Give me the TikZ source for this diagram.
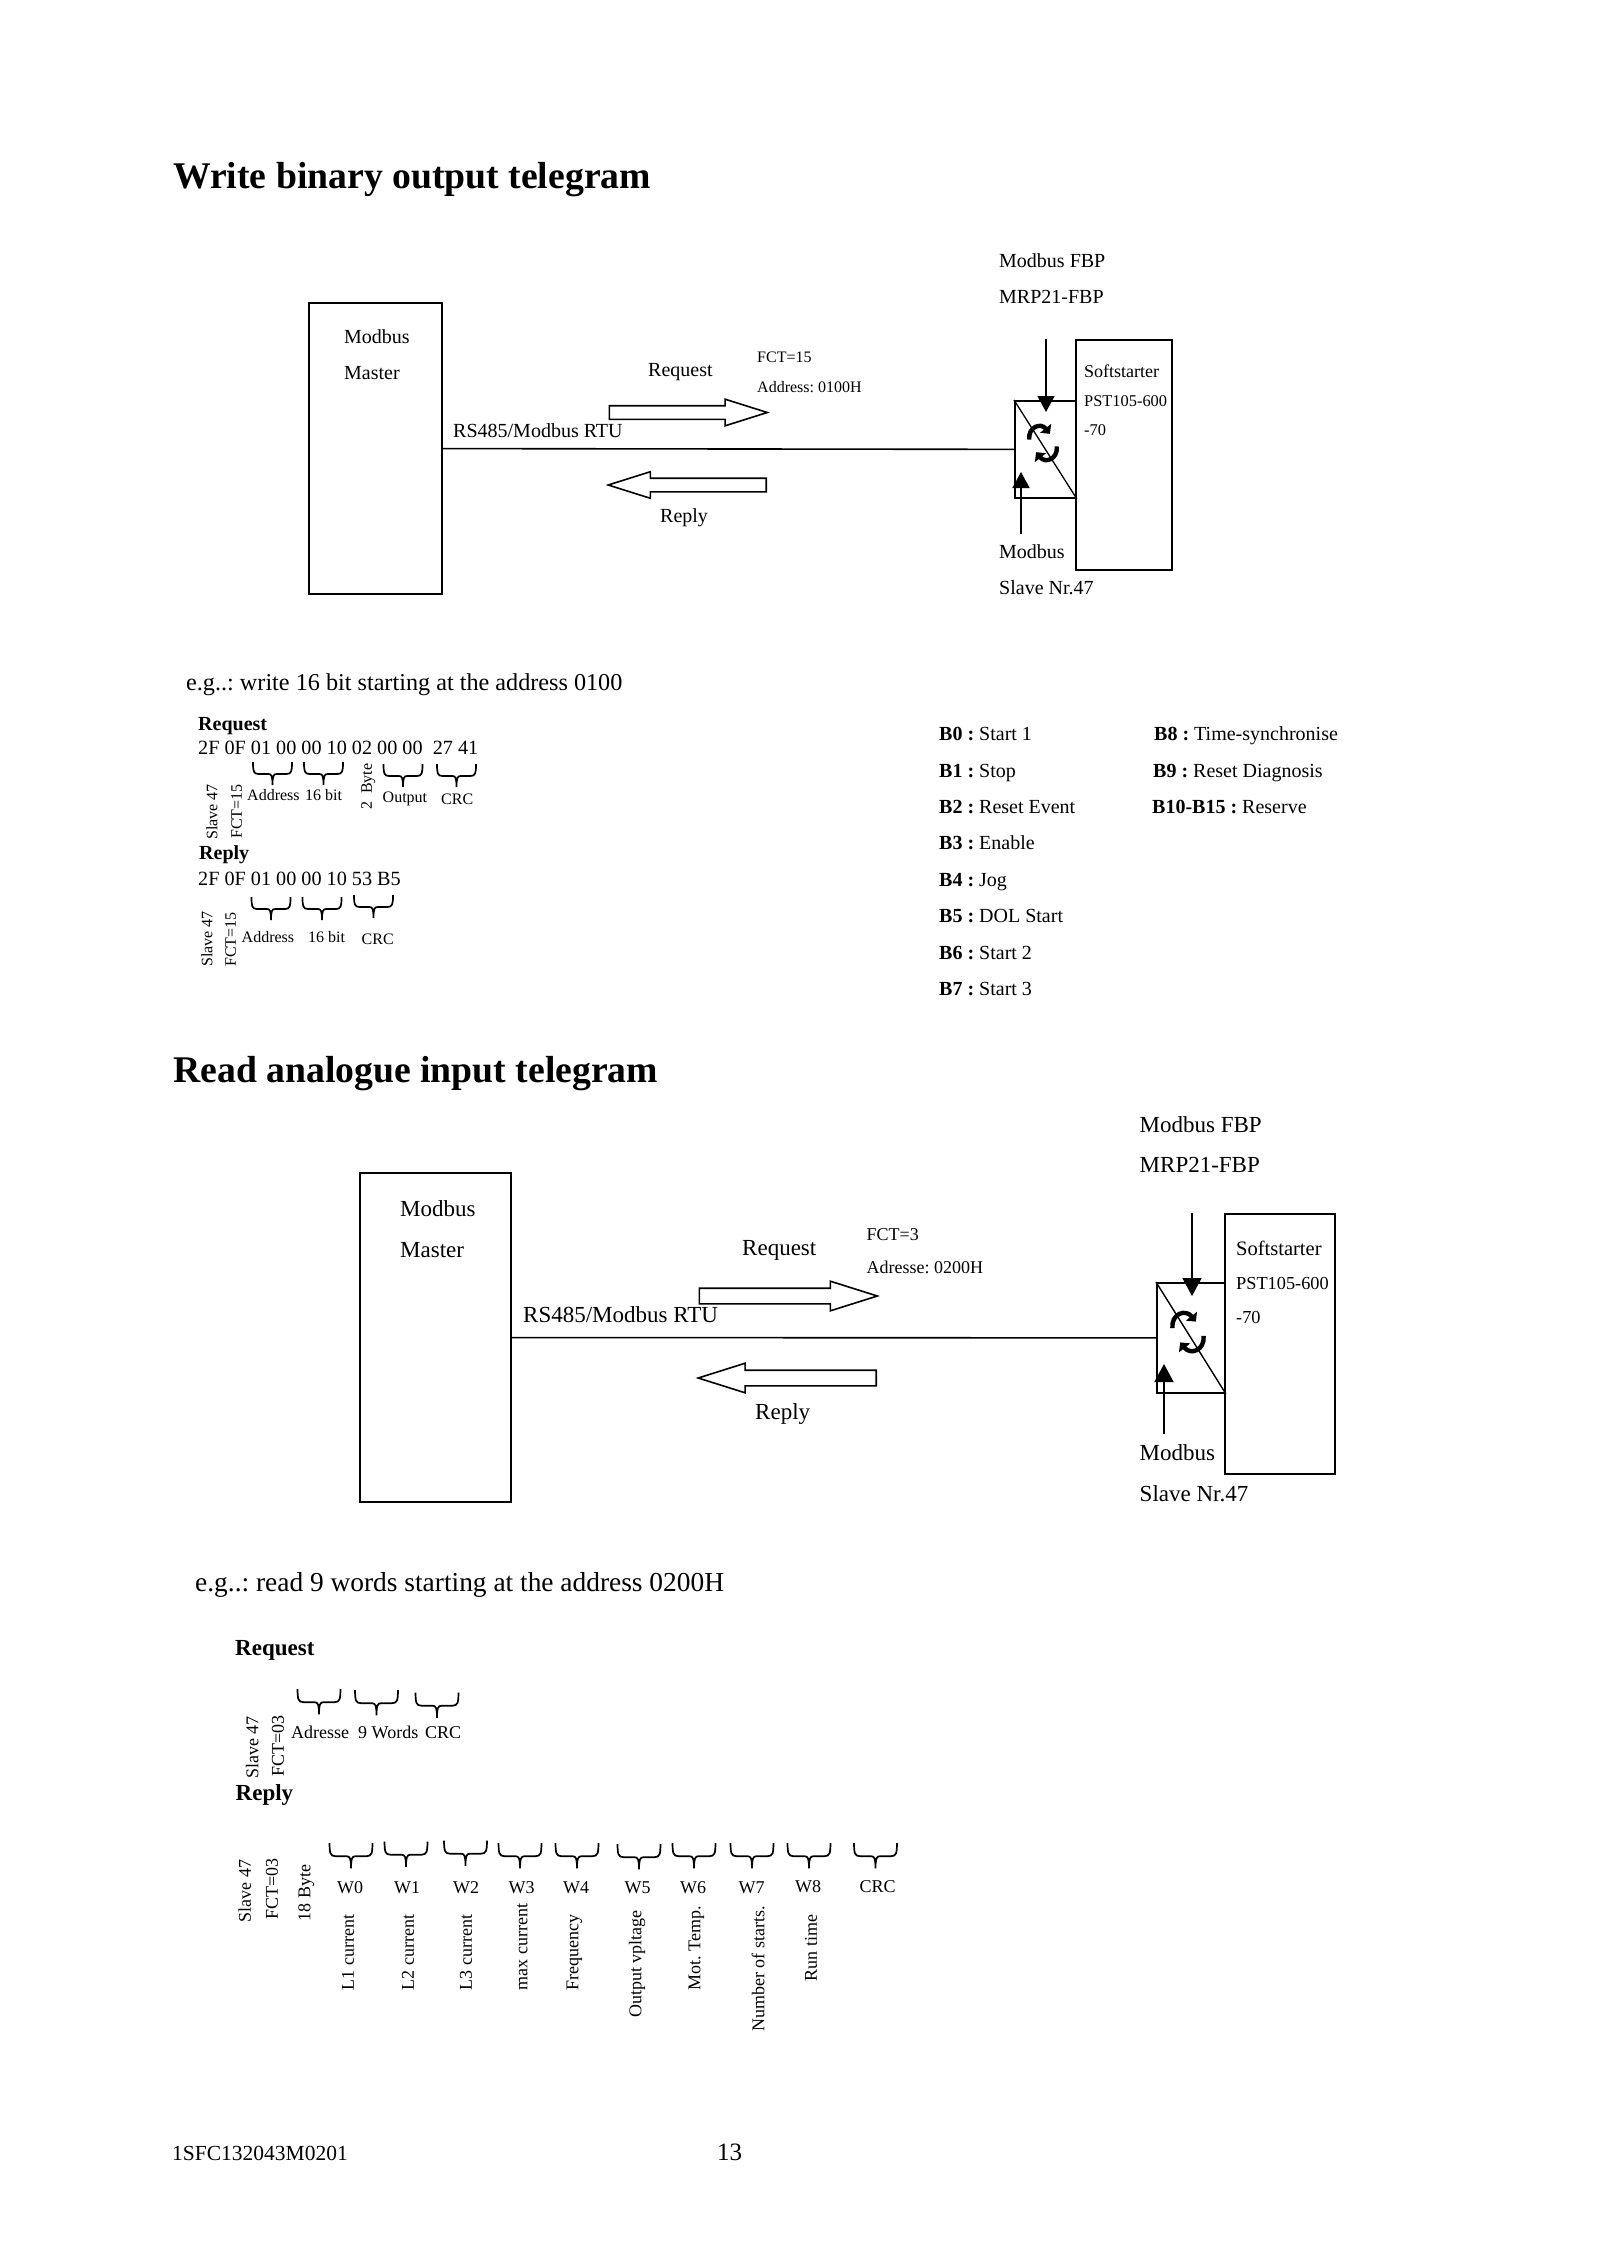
\documentclass[tikz,border=0pt]{standalone}
\usepackage{fontspec}
\setmainfont{Liberation Serif}
\usetikzlibrary{arrows.meta,shapes.arrows}
\tikzset{
  sz/.style={font=\fontsize{#1}{#1}\selectfont\frenchspacing},
  lbl/.style={anchor=west,inner sep=0pt,text height=.66*#1,text depth=0pt,sz=#1},
  mid/.style={lbl=#1,anchor=center},
  up/.style={lbl=#1,rotate=90},
  bold/.style={lbl=#1,font=\fontsize{#1}{#1}\selectfont\bfseries},
  unit/.style={draw,line width=1.8pt,inner sep=0pt},
  wire/.style={line width=1.6pt},
  feed/.style={line width=1.6pt,-{Triangle[length=#1,width=#1+1]}},
  blockr/.style={single arrow,draw,line width=1.6pt,inner sep=6pt,minimum height=#1,
    minimum width=25,single arrow head extend=6.5,single arrow tip angle=35,anchor=tail},
  blockl/.style={blockr=#1,shape border rotate=180},
  bigblock/.style={inner sep=7pt,minimum width=28,single arrow head extend=7},
  wordbrace/.pic={
    \draw[line width=1.7pt] (-19.5,0) .. controls (-19.5,9) and (-19,12) .. (-14,12)
      -- (-4,12) .. controls (-1,12) and (0,14) .. (0,23)
      .. controls (0,14) and (1,12) .. (4,12) -- (14,12)
      .. controls (19,12) and (19.5,9) .. (19.5,0);
  },
  syncicon/.pic={
    \draw[line width=4.4pt,-{Triangle[length=7pt,width=14pt]}] (-12,-3) .. controls (-13,-14) and (-2,-18) .. (6,-8);
    \draw[line width=4.4pt,-{Triangle[length=7pt,width=14pt]}] (12,3) .. controls (13,14) and (2,18) .. (-6,8);
  }
}
\begin{document}
\begin{tikzpicture}[x=1pt,y=-1pt,line cap=butt,line join=miter]
  \useasboundingbox (0,0) rectangle (1600,2264);
  % write binary output
  \node[bold=37.7] (titlew) at (173,176) {Write binary output telegram};
  \node[unit,minimum width=133,minimum height=291] (mastera) at (375.5,448.5) {};
  \node[unit,minimum width=96,minimum height=230,anchor=north west] (softa) at (1075,339) {};
  \node[unit,minimum width=61,minimum height=97,anchor=north west] (conva) at (1014,400) {};
  \draw[line width=1.3pt] (conva.north west) -- (conva.south east);
  \draw[wire] (mastera) -- (conva);
  \pic[scale=1.15] at (1043,443) {syncicon};
  \coordinate (fbpa) at (1046,339);
  \coordinate (fbptipa) at (1046,412);
  \coordinate (slva) at (1021,534);
  \coordinate (slvtipa) at (1021,472);
  \draw[feed=16pt] (fbpa) -- (fbptipa);
  \draw[feed=16pt] (slva) -- (slvtipa);
  \node[blockr=158] (reqa) at (608.5,412.5) {};
  \node[blockl=158] (repa) at (767,485) {};
  \node[lbl=20] (fbpna) at (999,260.5) {Modbus FBP};
  \node[lbl=20] (fbpma) at (999,297) {MRP21-FBP};
  \node[lbl=20] (mna) at (344,336.5) {Modbus};
  \node[lbl=20] (mma) at (344,372.5) {Master};
  \node[lbl=20] (reqta) at (648,370) {Request};
  \node[lbl=16] (fcta) at (757,357) {FCT=15};
  \node[lbl=16] (adra) at (757,387) {Address: 0100H};
  \node[lbl=20] (rtua) at (453,430.5) {RS485/Modbus RTU};
  \node[lbl=20] (repta) at (660,516) {Reply};
  \node[lbl=20] (slna) at (999,551.5) {Modbus};
  \node[lbl=20] (slma) at (999,587.5) {Slave Nr.47};
  \node[lbl=18] (sfa) at (1084,371.5) {Softstarter};
  \node[lbl=16.4] (psa) at (1084,401.5) {PST105-600};
  \node[lbl=16.4] (pva) at (1084,430.5) {-70};
  % write example
  \node[lbl=24.2] (ega) at (186,683) {e.g..: write 16 bit starting at the address 0100};
  \node[bold=20] (rqa) at (198,723.5) {Request};
  \node[lbl=20.2] (rqbytes) at (198,748) {2F 0F 01 00 00 10 02 00 00\ \ 27 41};
  \pic at (272.5,762) {wordbrace};
  \pic at (323.5,762) {wordbrace};
  \pic at (403,764) {wordbrace};
  \pic at (456.5,764) {wordbrace};
  \node[up=16] (sla) at (212,840) {Slave 47};
  \node[up=16] (fca) at (236.5,839) {FCT=15};
  \node[lbl=16] (wada) at (247,795) {Address};
  \node[lbl=16] (wbia) at (305,795) {16 bit};
  \node[up=16] (wbya) at (366.5,810) {2\ \ Byte};
  \node[lbl=16] (woua) at (382.5,797) {Output};
  \node[lbl=16] (wcra) at (441,799) {CRC};
  \node[bold=20] (rpa) at (199,852.5) {Reply};
  \node[lbl=20.2] (rpbytes) at (198,879) {2F 0F 01 00 00 10 53 B5};
  \pic at (271,897) {wordbrace};
  \pic at (322,897) {wordbrace};
  \pic at (373.5,895) {wordbrace};
  \node[up=16] (slb) at (207,967) {Slave 47};
  \node[up=16] (fcb) at (230.5,967) {FCT=15};
  \node[lbl=16] (wadb) at (241.5,937) {Address};
  \node[lbl=16] (wbib) at (308,937) {16 bit};
  \node[lbl=16] (wcrb) at (361.5,939) {CRC};
  % bit list
  \node[lbl=20] (b0) at (939,734) {\textbf{B0 :} Start 1};
  \node[lbl=20] (b1) at (939,771) {\textbf{B1 :} Stop};
  \node[lbl=20] (b2) at (939,807) {\textbf{B2 :} Reset Event};
  \node[lbl=20] (b3) at (939,843) {\textbf{B3 :} Enable};
  \node[lbl=20] (b4) at (939,880) {\textbf{B4 :} Jog};
  \node[lbl=20] (b5) at (939,916) {\textbf{B5 :} DOL Start};
  \node[lbl=20] (b6) at (939,953) {\textbf{B6 :} Start 2};
  \node[lbl=20] (b7) at (939,989) {\textbf{B7 :} Start 3};
  \node[lbl=20] (b8) at (1154,734) {\textbf{B8 :} Time-synchronise};
  \node[lbl=20] (b9) at (1153,771) {\textbf{B9 :} Reset Diagnosis};
  \node[lbl=20] (b10) at (1152,807) {\textbf{B10-B15 :} Reserve};
  % read analogue input
  \node[bold=37.7] (titler) at (173,1070) {Read analogue input telegram};
  \node[unit,minimum width=151,minimum height=329] (masterb) at (435.5,1337.5) {};
  \node[unit,minimum width=110,minimum height=260,anchor=north west] (softb) at (1224,1213) {};
  \node[unit,minimum width=68,minimum height=110,anchor=north west] (convb) at (1156,1282) {};
  \draw[line width=1.4pt] (convb.north west) -- (convb.south east);
  \draw[wire] (masterb) -- (convb);
  \pic[scale=1.3] at (1188,1332) {syncicon};
  \coordinate (fbpb) at (1192,1213);
  \coordinate (fbptipb) at (1192,1296);
  \coordinate (slvb) at (1164,1434);
  \coordinate (slvtipb) at (1164,1364);
  \draw[feed=18pt] (fbpb) -- (fbptipb);
  \draw[feed=18pt] (slvb) -- (slvtipb);
  \node[blockr=178,bigblock] (reqb) at (698.5,1296) {};
  \node[blockl=178,bigblock] (repb) at (877,1378) {};
  \node[lbl=23] (fbpnb) at (1139.5,1125) {Modbus FBP};
  \node[lbl=23] (fbpmb) at (1139.5,1165) {MRP21-FBP};
  \node[lbl=23] (mnb) at (400,1209) {Modbus};
  \node[lbl=23] (mmb) at (400,1250) {Master};
  \node[lbl=23] (reqtb) at (742,1248) {Request};
  \node[lbl=18] (fctb) at (866.5,1234.5) {FCT=3};
  \node[lbl=18] (adrb) at (866.5,1268) {Adresse: 0200H};
  \node[lbl=23] (rtub) at (523,1315) {RS485/Modbus RTU};
  \node[lbl=23] (reptb) at (755,1412) {Reply};
  \node[lbl=23] (slnb) at (1139.5,1453) {Modbus};
  \node[lbl=23] (slmb) at (1139.5,1494) {Slave Nr.47};
  \node[lbl=20.5] (sfb) at (1236,1249) {Softstarter};
  \node[lbl=18.3] (psb) at (1236,1283.5) {PST105-600};
  \node[lbl=18.3] (pvb) at (1236,1317) {-70};
  % read example
  \node[lbl=27.4] (egb) at (195,1582) {e.g..: read 9 words starting at the address 0200H};
  \node[bold=23] (rqb) at (235,1648) {Request};
  \pic[scale=1.1] at (319,1689) {wordbrace};
  \pic[scale=1.1] at (376.5,1690) {wordbrace};
  \pic[scale=1.1] at (437,1692.5) {wordbrace};
  \node[up=18] (slc) at (252.5,1779) {Slave 47};
  \node[up=18] (fcc) at (278,1777) {FCT=03};
  \node[lbl=18] (wadc) at (291,1733) {Adresse};
  \node[lbl=18] (wwoc) at (358,1733) {9 Words};
  \node[lbl=18] (wcrc) at (425,1733) {CRC};
  \node[bold=23] (rpb) at (235.5,1793) {Reply};
  \pic[scale=1.1] at (351,1843) {wordbrace};
  \pic[scale=1.1] at (406,1841.5) {wordbrace};
  \pic[scale=1.1] at (465.5,1840.5) {wordbrace};
  \pic[scale=1.1] at (520,1843) {wordbrace};
  \pic[scale=1.1] at (577,1843) {wordbrace};
  \pic[scale=1.1] at (639,1844) {wordbrace};
  \pic[scale=1.1] at (694,1843) {wordbrace};
  \pic[scale=1.1] at (752,1843) {wordbrace};
  \pic[scale=1.1] at (809,1843) {wordbrace};
  \pic[scale=1.1] at (875.5,1843) {wordbrace};
  \node[up=18] (sld) at (245,1922.5) {Slave 47};
  \node[up=18] (fcd) at (272,1920) {FCT=03};
  \node[up=18] (byd) at (304.5,1921.5) {18 Byte};
  \node[mid=18] (w0) at (350,1887.5) {W0};
  \node[mid=18] (w1) at (407,1887.5) {W1};
  \node[mid=18] (w2) at (466,1887.5) {W2};
  \node[mid=18] (w3) at (521.5,1887.5) {W3};
  \node[mid=18] (w4) at (576,1887.5) {W4};
  \node[mid=18] (w5) at (637.5,1887.5) {W5};
  \node[mid=18] (w6) at (693,1887.5) {W6};
  \node[mid=18] (w7) at (751.5,1887.5) {W7};
  \node[mid=18] (w8) at (808,1886.5) {W8};
  \node[mid=18] (wcrd) at (877.5,1887) {CRC};
  \node[up=18] (l1) at (348,1990.5) {L1 current};
  \node[up=18] (l2) at (408,1990.5) {L2 current};
  \node[up=18] (l3) at (466,1990.5) {L3 current};
  \node[up=18] (lmx) at (521.5,1990.5) {max current};
  \node[up=18] (lfr) at (572.5,1990.5) {Frequency};
  \node[up=18] (lou) at (635.5,2018) {Output vpltage};
  \node[up=18] (lmo) at (694.5,1990.5) {Mot. Temp.};
  \node[up=18] (lnu) at (758.5,2032) {Number of starts.};
  \node[up=18] (lru) at (811,1981.5) {Run time};
  % footer
  \node[lbl=21.5] (docnr) at (172,2153) {1SFC132043M0201};
  \node[lbl=25] (pagenr) at (717,2152) {13};
\end{tikzpicture}
\end{document}
